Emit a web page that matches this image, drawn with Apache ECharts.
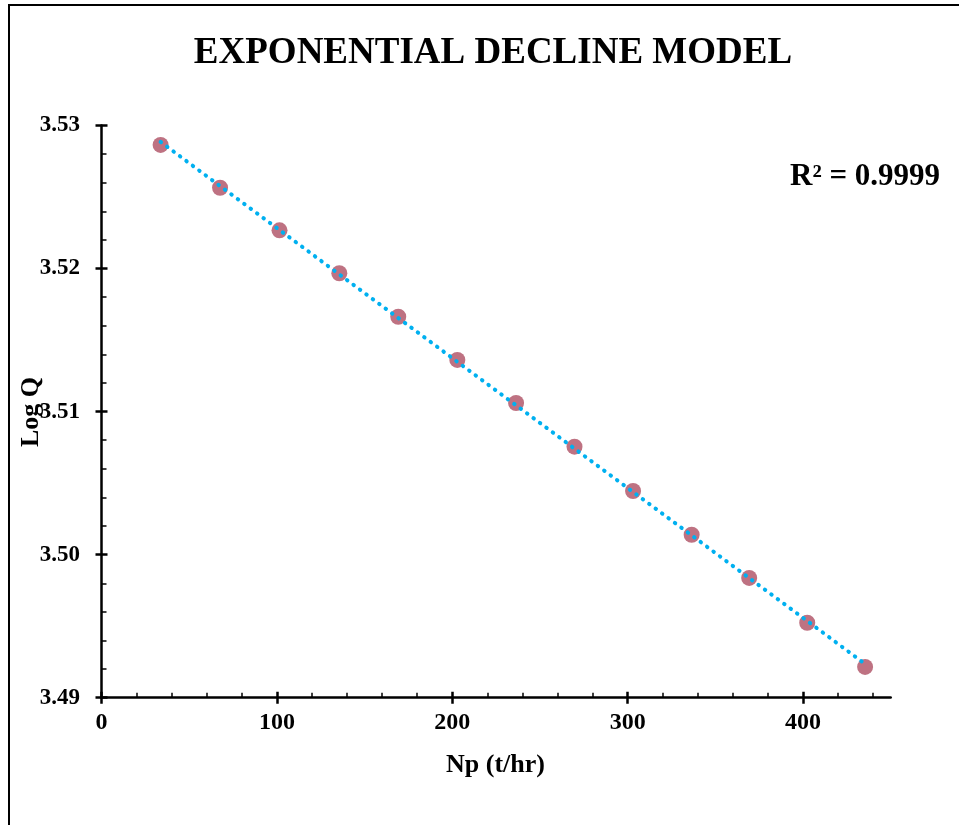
<!DOCTYPE html>
<html>
<head>
<meta charset="utf-8">
<script src="https://cdn.jsdelivr.net/npm/echarts@6/dist/echarts.min.js"></script>
<style>html,body{margin:0;padding:0;background:#fff}#c{width:959px;height:825px}</style>
</head>
<body>
<div id="c"></div>
<script>
// Data
const np = [33.7, 67.6, 101.5, 135.6, 169.2, 202.9, 236.4, 269.7, 303.1, 336.5, 369.3, 402.4, 435.4];
const logQ = [3.52864, 3.52565, 3.52267, 3.51967, 3.51663, 3.51361, 3.51060, 3.50755, 3.50445, 3.50139, 3.49837, 3.49524, 3.49215];
const xMajorTicks = [0, 100, 200, 300, 400];
const xMinorTicks = [20, 40, 60, 80, 120, 140, 160, 180, 220, 240, 260, 280, 320, 340, 360, 380, 420, 440];
const yMajorTicks = [3.49, 3.50, 3.51, 3.52, 3.53];
const yMinorTicks = [3.492, 3.494, 3.496, 3.498, 3.502, 3.504, 3.506, 3.508, 3.512, 3.514, 3.516, 3.518, 3.522, 3.524, 3.526, 3.528];
const titleText = 'EXPONENTIAL DECLINE MODEL';
const r2Text = 'R² = 0.9999';
const xName = 'Np (t/hr)';
const yName = 'Log Q';

// linear least-squares trendline
const n = np.length;
let sx=0, sy=0, sxx=0, sxy=0;
for (let i=0;i<n;i++){ sx+=np[i]; sy+=logQ[i]; sxx+=np[i]*np[i]; sxy+=np[i]*logQ[i]; }
const slope = (n*sxy - sx*sy)/(n*sxx - sx*sx);
const icpt = (sy - slope*sx)/n;
const trend = [[np[0], icpt + slope*np[0]], [np[n-1], icpt + slope*np[n-1]]];

const FONT = "'Liberation Serif', 'Times New Roman', serif";
const chart = echarts.init(document.getElementById('c'));
const grid = {left: 101.5, right: 68.3, top: 125.5, bottom: 127.3};
const xBase = {type: 'value', min: 0, max: 450, splitLine: {show: false}, gridIndex: 0, position: 'bottom'};
const yBase = {type: 'value', min: 3.49, max: 3.53, splitLine: {show: false}, gridIndex: 0, position: 'left', scale: true};
chart.setOption({
  animation: false,
  backgroundColor: '#fff',
  title: {
    text: titleText, left: 488, top: 30, textAlign: 'center',
    textStyle: {fontFamily: FONT, fontWeight: 'bold', fontSize: 37, color: '#000'}
  },
  grid: grid,
  xAxis: [
    Object.assign({}, xBase, {
      axisLine: {show: true, lineStyle: {color: '#000', width: 2.5}},
      axisTick: {show: true, inside: true, length: 5, customValues: xMinorTicks, lineStyle: {color: '#000', width: 1.5}},
      axisLabel: {show: true, customValues: xMajorTicks, margin: 13, color: '#000', fontFamily: FONT, fontWeight: 'bold', fontSize: 24}
    }),
    Object.assign({}, xBase, {
      axisLine: {show: false},
      axisTick: {show: true, inside: true, length: 6, customValues: xMajorTicks, lineStyle: {color: '#000', width: 2.5}},
      axisLabel: {show: false}
    }),
    Object.assign({}, xBase, {
      axisLine: {show: false},
      axisTick: {show: true, inside: false, length: 6, customValues: xMajorTicks, lineStyle: {color: '#000', width: 2.5}},
      axisLabel: {show: false}
    })
  ],
  yAxis: [
    Object.assign({}, yBase, {
      axisLine: {show: true, lineStyle: {color: '#000', width: 2.5}},
      axisTick: {show: true, inside: true, length: 5, customValues: yMinorTicks, lineStyle: {color: '#000', width: 1.5}},
      axisLabel: {show: true, customValues: yMajorTicks, margin: 21.5, color: '#000', fontFamily: FONT, fontWeight: 'bold', fontSize: 23,
        formatter: v => v.toFixed(2)}
    }),
    Object.assign({}, yBase, {
      axisLine: {show: false},
      axisTick: {show: true, inside: true, length: 6, customValues: yMajorTicks, lineStyle: {color: '#000', width: 2.5}},
      axisLabel: {show: false}
    }),
    Object.assign({}, yBase, {
      axisLine: {show: false},
      axisTick: {show: true, inside: false, length: 6, customValues: yMajorTicks, lineStyle: {color: '#000', width: 2.5}},
      axisLabel: {show: false}
    })
  ],
  graphic: [
    {type: 'rect', shape: {x: 9, y: 5, width: 1200, height: 1200}, style: {fill: 'none', stroke: '#000', lineWidth: 2}, silent: true},
    {type: 'text', left: 790, top: 161, style: {text: r2Text, fill: '#000', font: "bold 31px 'Liberation Serif', 'Times New Roman', serif"}, z: 10},
    {type: 'text', x: 495.5, y: 765, style: {text: xName, fill: '#000', align: 'center', verticalAlign: 'middle',
      font: "bold 26px 'Liberation Serif', 'Times New Roman', serif"}, z: 10},
    {type: 'text', x: 31, y: 412, rotation: Math.PI / 2, style: {text: yName, fill: '#000', align: 'center', verticalAlign: 'middle',
      font: "bold 26px 'Liberation Serif', 'Times New Roman', serif"}, z: 10}
  ],
  series: [
    {
      type: 'scatter', xAxisIndex: 0, yAxisIndex: 0,
      data: np.map((x, i) => [x, logQ[i]]),
      symbol: 'circle', symbolSize: 16,
      itemStyle: {color: '#BE7282', opacity: 1},
      z: 2
    },
    {
      type: 'line', xAxisIndex: 0, yAxisIndex: 0,
      data: trend, showSymbol: false, symbol: 'none',
      lineStyle: {color: '#00B0F0', width: 4, type: [0.5, 7.5], cap: 'round'},
      z: 3
    }
  ]
});
</script>
</body>
</html>
